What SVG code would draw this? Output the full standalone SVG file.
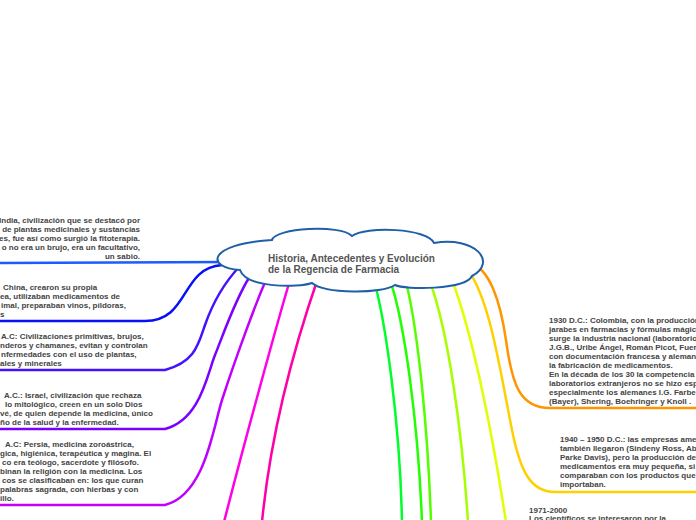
<svg xmlns="http://www.w3.org/2000/svg" width="696" height="520" viewBox="0 0 696 520">
<style>
.c{fill:none;stroke-width:2.5;stroke-linecap:round}
.t{font-family:"Liberation Sans",Arial,sans-serif;font-weight:bold;font-size:8px;fill:#444}
.e{text-anchor:end}
.title{font-family:"Liberation Sans",Arial,sans-serif;font-weight:bold;font-size:10px;fill:#555}
.cloud{fill:#fff;stroke:#1f5fa8;stroke-width:2}
</style>
<rect width="696" height="520" fill="#fff"/>
<g id="connectors">
<path class="c" stroke="#1a5cff" d="M230,262 L0,263"/>
<path class="c" stroke="#0a10f5" d="M222,265 C180,268 190,321 145,321 H0"/>
<path class="c" stroke="#4512ff" d="M240,266 C222,285 212,305 205,325 S195,362 165,370 H0"/>
<path class="c" stroke="#7a00ff" d="M250,276 C235,300 225,330 215,355 C207,375 200,420 165,429 H0"/>
<path class="c" stroke="#c000ff" d="M266,280 C255,305 235,360 222,400 C213,428 205,495 165,505 H0"/>
<path class="c" stroke="#ff00e6" d="M290,280 C278,320 245,440 224,522"/>
<path class="c" stroke="#ff00a8" d="M318,278 C300,330 272,420 262,522"/>
<path class="c" stroke="#00ff2a" d="M374,280 C385,320 400,420 402,522"/>
<path class="c" stroke="#22ff00" d="M390,280 C404,320 418,420 422,522"/>
<path class="c" stroke="#55ff00" d="M406,282 C418,330 428,430 431,522"/>
<path class="c" stroke="#a6ff00" d="M430,282 C448,330 462,430 468,522"/>
<path class="c" stroke="#e0ff00" d="M452,280 C475,340 495,450 506,522"/>
<path class="c" stroke="#ffd000" d="M468,270 C490,300 500,370 512,430 C520,470 530,492 555,492 H696"/>
<path class="c" stroke="#ff9500" d="M470,262 C490,270 500,300 506,340 C512,385 520,408 550,408 H696"/>
</g>
<g id="root">
<path class="cloud" d="M240,270 C206,268 206,244 272,240 C275,228 340,224 352,236 C365,226 428,228 434,243 C475,236 498,262 472,276 C465,290 405,290 395,285 C382,294 325,294 312,283 C298,288 246,288 240,270 Z"/>
<text class="title" x="268" y="262">Historia, Antecedentes y Evolución</text>
<text class="title" x="268" y="273">de la Regencia de Farmacia</text>
</g>
<g id="india">
<text class="t e" x="140" y="222.5">India, civilización que se destacó por</text>
<text class="t e" x="140" y="231.5">de plantas medicinales y sustancias</text>
<text class="t e" x="140" y="240.5">es, fue así como surgió la fitoterapia.</text>
<text class="t e" x="140" y="249.5">o no era un brujo, era un facultativo,</text>
<text class="t e" x="140" y="258.5">un sabio.</text>
</g>
<g id="china">
<text class="t" x="3" y="290">China, crearon su propia</text>
<text class="t" x="0" y="299">ea, utilizaban medicamentos de</text>
<text class="t" x="1" y="308">imal, preparaban vinos, píldoras,</text>
<text class="t" x="0" y="317">s</text>
</g>
<g id="primitivas">
<text class="t" x="1" y="339">A.C: Civilizaciones primitivas, brujos,</text>
<text class="t" x="0" y="348">nderos y chamanes, evitan y controlan</text>
<text class="t" x="1" y="357">nfermedades con el uso de plantas,</text>
<text class="t" x="0" y="366">ales y minerales</text>
</g>
<g id="israel">
<text class="t" x="4" y="397.5">A.C.: Israel, civilización que rechaza</text>
<text class="t" x="5" y="406.5">lo mitológico, creen en un solo Dios</text>
<text class="t" x="0" y="415.5">vé, de quien depende la medicina, único</text>
<text class="t" x="0" y="424.5">ño de la salud y la enfermedad.</text>
</g>
<g id="persia">
<text class="t" x="5" y="447">A.C: Persia, medicina zoroástrica,</text>
<text class="t" x="0" y="456">gica, higiénica, terapéutica y magina. El</text>
<text class="t" x="2" y="465">co era teólogo, sacerdote y filósofo.</text>
<text class="t" x="0" y="474">binan la religión con la medicina. Los</text>
<text class="t" x="2" y="483">cos se clasificaban en: los que curan</text>
<text class="t" x="0" y="492">palabras sagrada, con hierbas y con</text>
<text class="t" x="0" y="501">illo.</text>
</g>
<g id="colombia1930">
<text class="t" x="549" y="323">1930 D.C.: Colombia, con la producción</text>
<text class="t" x="549" y="332">jarabes en farmacias y fórmulas mágic</text>
<text class="t" x="549" y="341">surge la industria nacional (laboratorio</text>
<text class="t" x="549" y="350">J.G.B., Uribe Ángel, Román Picot, Fuer</text>
<text class="t" x="549" y="359">con documentación francesa y aleman</text>
<text class="t" x="549" y="368">la fabricación de medicamentos.</text>
<text class="t" x="549" y="377">En la década de los 30 la competencia</text>
<text class="t" x="549" y="386">laboratorios extranjeros no se hizo esp</text>
<text class="t" x="549" y="395">especialmente los alemanes I.G. Farbe</text>
<text class="t" x="549" y="404">(Bayer), Shering, Boehringer y Knoll .</text>
</g>
<g id="d1940">
<text class="t" x="560" y="442">1940 – 1950 D.C.: las empresas ame</text>
<text class="t" x="560" y="451">también llegaron (Sindeny Ross, Ab</text>
<text class="t" x="560" y="460">Parke Davis), pero la producción de</text>
<text class="t" x="560" y="469">medicamentos era muy pequeña, si</text>
<text class="t" x="560" y="478">comparaban con los productos que</text>
<text class="t" x="560" y="487">importaban.</text>
</g>
<g id="d1971">
<text class="t" x="529" y="513">1971-2000</text>
<text class="t" x="529" y="521">Los científicos se interesaron por la</text>
</g>
</svg>
